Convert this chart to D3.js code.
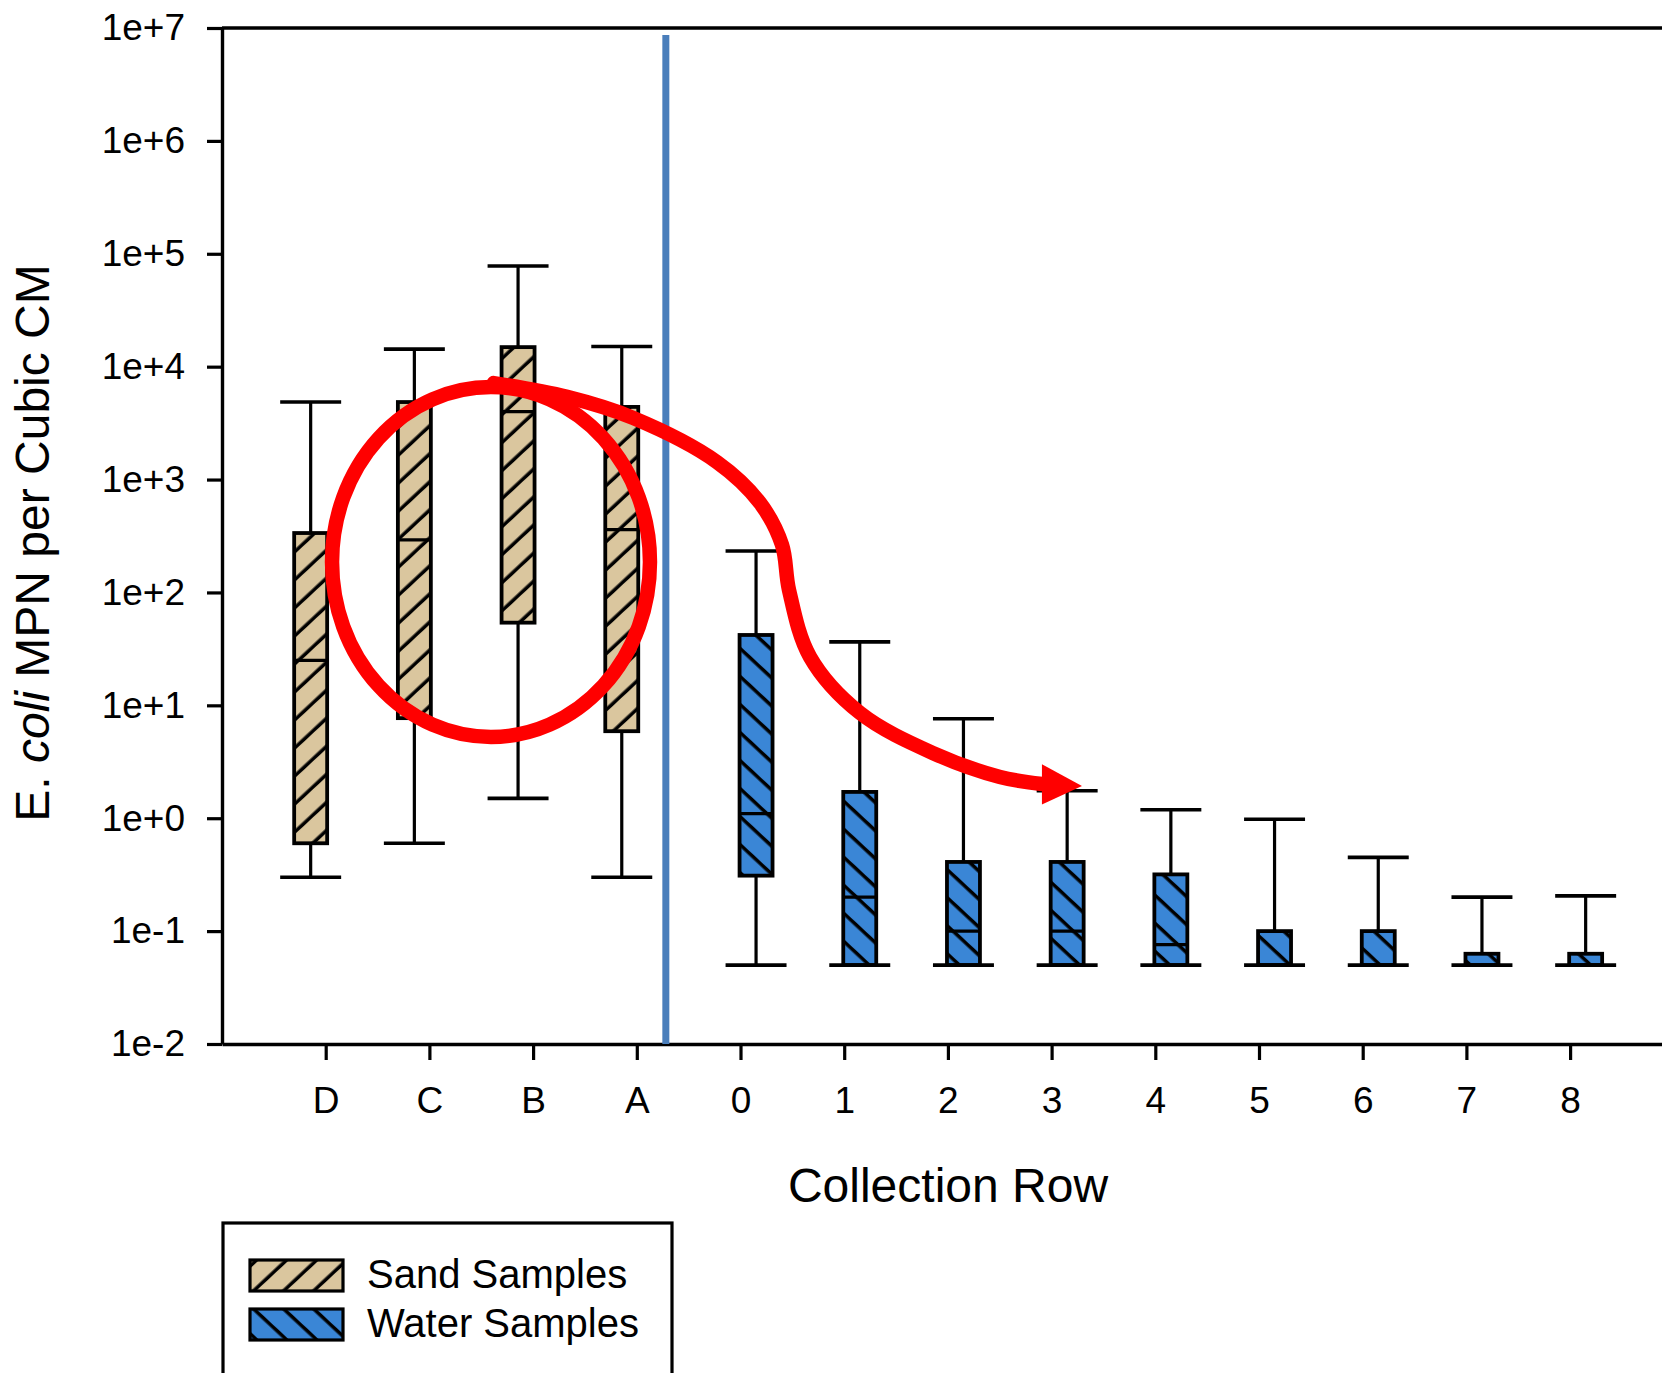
<!DOCTYPE html>
<html lang="en">
  <head>
    <meta charset="utf-8">
    <title>E. coli box plot</title>
    <script src="https://d3js.org/d3.v7.min.js"></script>
    <style>
      body { margin: 0; background: #fff; }
      #chart text { font-family: "Liberation Sans", Arial, sans-serif; fill: #000; }
    </style>
  </head>
  <body>
    <div id="chart"></div>

    <script type="text/javascript">
      "use strict"
      // categorias do eixo x
      var rowLabels = ["D", "C", "B", "A", "0", "1", "2", "3", "4", "5", "6", "7", "8"];
      var yTicks = [1e-2, 1e-1, 1e0, 1e1, 1e2, 1e3, 1e4, 1e5, 1e6, 1e7];

      // areia (sand)
      var sandRows = ["D", "C", "B", "A"];
      var sandLow = [0.30, 0.60, 1.5, 0.30];
      var sandQ1 = [0.60, 7.7, 54, 5.9];
      var sandMedian = [25, 292, 4000, 360];
      var sandQ3 = [336, 4860, 14900, 4400];
      var sandHigh = [4860, 14300, 78000, 15100];

      // agua (water)
      var waterRows = ["0", "1", "2", "3", "4", "5", "6", "7", "8"];
      var waterLow = [0.05, 0.05, 0.05, 0.05, 0.05, 0.05, 0.05, 0.05, 0.05];
      var waterQ1 = [0.31, 0.05, 0.05, 0.05, 0.05, 0.05, 0.05, 0.05, 0.05];
      var waterMedian = [1.1, 0.2, 0.1, 0.1, 0.076, 0.05, 0.05, 0.05, 0.05];
      var waterQ3 = [42, 1.71, 0.41, 0.41, 0.318, 0.1, 0.1, 0.063, 0.063];
      var waterHigh = [233, 36.5, 7.6, 1.75, 1.19, 0.98, 0.45, 0.20, 0.205];

      // anotacao vermelha, em unidades dos dados (indice x, valor y)
      var loopCenter = [2.594, 186];
      var loopRadius = [1.533, 1.55]; // indices em x, decadas em y
      var arrowCurve = [[2.62, 7150], [3.327, 5400], [3.963, 3520], [4.773, 1430],
        [5.188, 621], [5.400, 264], [5.468, 105], [5.670, 26.9], [6.152, 8.57],
        [6.856, 3.78], [7.502, 2.32], [7.907, 2.01]];
      var arrowHead = [[8.293, 1.93], [7.907, 3.0], [7.907, 1.32]];
      var dividerAt = 4.28;

      var legendItems = [
        {label: "Sand Samples", pattern: "url(#hatchSand)"},
        {label: "Water Samples", pattern: "url(#hatchWater)"}
      ];

      var sandColor = "#dac69e", waterColor = "#3a86d6";

      var larguraSVG = 1662, alturaSVG = 1373;
      var margin = {top: 28, left: 222, bottom: 329};
      var unit = 103.7;

      var svg = d3.select("#chart").append("svg")
          .attr("width", larguraSVG)
          .attr("height", alturaSVG);

      var x = d3.scaleLinear().domain([0, 14]).range([margin.left, margin.left + 14 * unit]);
      var y = d3.scaleLog().domain([1e-2, 1e7]).range([alturaSVG - margin.bottom, margin.top]);

      // padroes de hachura
      var defs = svg.append("defs");
      function hatch(id, color, angle) {
        var p = defs.append("pattern")
            .attr("id", id)
            .attr("patternUnits", "userSpaceOnUse")
            .attr("width", 20.5).attr("height", 20.5)
            .attr("patternTransform", "rotate(" + angle + ")");
        p.append("rect").attr("width", 20.5).attr("height", 20.5).attr("fill", color);
        p.append("line").attr("x1", 10).attr("x2", 10).attr("y1", -1).attr("y2", 22)
            .attr("stroke", "#000").attr("stroke-width", 3.5);
      }
      hatch("hatchSand", sandColor, 47);
      hatch("hatchWater", waterColor, -47);

      /*
       * Os eixos
       */
      svg.append("g")
          .attr("transform", "translate(0," + y(1e-2) + ")")
          .call(d3.axisBottom(x)
            .tickValues(d3.range(1, 14))
            .tickFormat(function(d) { return rowLabels[d - 1]; })
            .tickSize(16).tickSizeOuter(0).tickPadding(27))
          .call(function(g) {
            g.select(".domain").attr("stroke-width", 3.4);
            g.selectAll(".tick line").attr("stroke-width", 3.2);
            g.selectAll("text").attr("font-size", 37);
          });

      svg.append("g")
          .attr("transform", "translate(" + x(0) + ",0)")
          .call(d3.axisLeft(y)
            .tickValues(yTicks)
            .tickFormat(function(d) {
              var e = Math.round(Math.log10(d));
              return "1e" + (e >= 0 ? "+" : "") + e;
            })
            .tickSize(15).tickSizeOuter(0).tickPadding(22))
          .call(function(g) {
            g.select(".domain").attr("stroke-width", 3.4);
            g.selectAll(".tick line").attr("stroke-width", 3.2);
            g.selectAll("text").attr("font-size", 37);
          });

      // linha superior do quadro
      svg.append("line")
          .attr("x1", x(0)).attr("x2", x(14))
          .attr("y1", y(1e7)).attr("y2", y(1e7))
          .attr("stroke", "#000").attr("stroke-width", 3.6);

      /*
       * As caixas
       */
      function drawBoxes(rows, low, q1, med, q3, high, offset, fill) {
        var boxHalf = x(0.159) - x(0), capHalf = x(0.294) - x(0);
        var data = rows.map(function(r, i) {
          return {cx: x(rowLabels.indexOf(r) + 1 + offset), low: low[i], q1: q1[i], med: med[i], q3: q3[i], high: high[i]};
        });
        var g = svg.append("g").selectAll("g").data(data).enter().append("g");
        // bigodes
        g.append("line")
            .attr("x1", d => d.cx).attr("x2", d => d.cx)
            .attr("y1", d => y(d.high)).attr("y2", d => y(d.q3))
            .attr("stroke", "#000").attr("stroke-width", 3.2);
        g.append("line")
            .attr("x1", d => d.cx).attr("x2", d => d.cx)
            .attr("y1", d => y(d.q1)).attr("y2", d => y(d.low))
            .attr("stroke", "#000").attr("stroke-width", 3.2);
        g.append("line")
            .attr("x1", d => d.cx - capHalf).attr("x2", d => d.cx + capHalf)
            .attr("y1", d => y(d.high)).attr("y2", d => y(d.high))
            .attr("stroke", "#000").attr("stroke-width", 3.6);
        g.append("rect")
            .attr("x", d => d.cx - boxHalf)
            .attr("width", 2 * boxHalf)
            .attr("y", d => y(d.q3))
            .attr("height", d => y(d.q1) - y(d.q3))
            .attr("fill", fill)
            .attr("stroke", "#000").attr("stroke-width", 3.8);
        g.append("line")
            .attr("x1", d => d.cx - boxHalf).attr("x2", d => d.cx + boxHalf)
            .attr("y1", d => y(d.med)).attr("y2", d => y(d.med))
            .attr("stroke", "#000").attr("stroke-width", 3.2);
        g.append("line")
            .attr("x1", d => d.cx - capHalf).attr("x2", d => d.cx + capHalf)
            .attr("y1", d => y(d.low)).attr("y2", d => y(d.low))
            .attr("stroke", "#000").attr("stroke-width", 3.6);
      }
      drawBoxes(sandRows, sandLow, sandQ1, sandMedian, sandQ3, sandHigh, -0.145, "url(#hatchSand)");
      drawBoxes(waterRows, waterLow, waterQ1, waterMedian, waterQ3, waterHigh, 0.15, "url(#hatchWater)");

      // linha azul divisoria
      svg.append("line")
          .attr("x1", x(dividerAt)).attr("x2", x(dividerAt))
          .attr("y1", y(1e7) + 7).attr("y2", y(1e-2))
          .attr("stroke", "#4a7ebb").attr("stroke-width", 7);

      /*
       * Anotacao vermelha
       */
      svg.append("ellipse")
          .attr("cx", x(loopCenter[0]))
          .attr("cy", y(loopCenter[1]))
          .attr("rx", x(loopRadius[0]) - x(0))
          .attr("ry", y(1) - y(Math.pow(10, loopRadius[1])))
          .attr("fill", "none")
          .attr("stroke", "#ff0000").attr("stroke-width", 14.5);

      svg.append("path")
          .attr("d", d3.line().x(d => x(d[0])).y(d => y(d[1])).curve(d3.curveCatmullRom)(arrowCurve))
          .attr("fill", "none")
          .attr("stroke", "#ff0000").attr("stroke-width", 14.5)
          .attr("stroke-linecap", "round");

      svg.append("path")
          .attr("d", d3.line().x(d => x(d[0])).y(d => y(d[1])).curve(d3.curveLinearClosed)(arrowHead))
          .attr("fill", "#ff0000");

      /*
       * Titulos
       */
      svg.append("text")
          .attr("x", 948).attr("y", 1202)
          .attr("text-anchor", "middle")
          .attr("font-size", 48)
          .text("Collection Row");

      var yt = svg.append("text")
          .attr("transform", "translate(49," + 543 + ") rotate(-90)")
          .attr("text-anchor", "middle")
          .attr("font-size", 48);
      yt.append("tspan").text("E. ");
      yt.append("tspan").attr("font-style", "italic").text("coli");
      yt.append("tspan").text(" MPN per Cubic CM");

      /*
       * Legenda
       */
      svg.append("rect")
          .attr("x", 223).attr("y", 1223)
          .attr("width", 449).attr("height", 200)
          .attr("fill", "none")
          .attr("stroke", "#000").attr("stroke-width", 3.2);

      var legend = svg.selectAll(".legend")
          .data(legendItems)
        .enter().append("g")
          .attr("class", "legend")
          .attr("transform", function(d, i) { return "translate(0," + i * 49 + ")"; });
      legend.append("rect")
          .attr("x", 250).attr("y", 1260)
          .attr("width", 93).attr("height", 31)
          .attr("fill", d => d.pattern)
          .attr("stroke", "#000").attr("stroke-width", 3.2);
      legend.append("text")
          .attr("x", 367).attr("y", 1288)
          .attr("font-size", 40)
          .text(d => d.label);
    </script>
  </body>
</html>
